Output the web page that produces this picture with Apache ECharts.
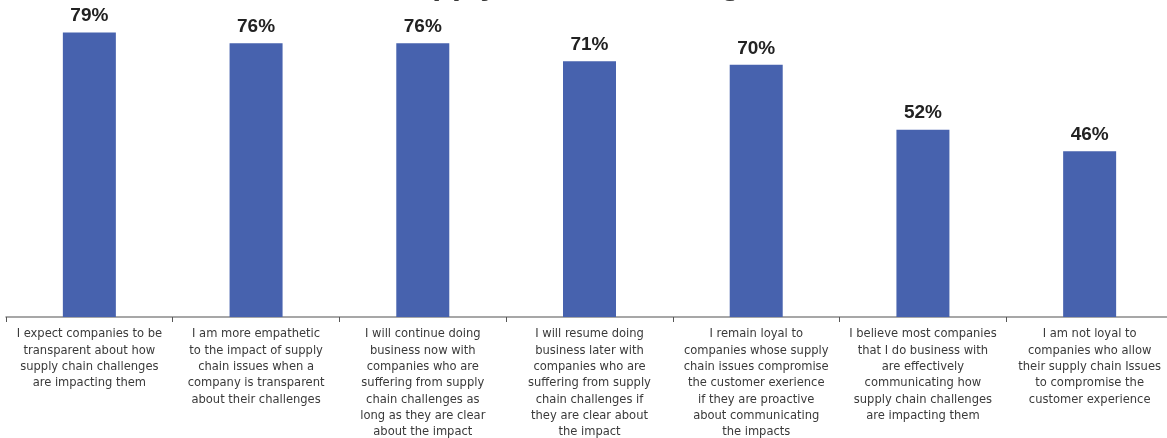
<!DOCTYPE html>
<html>
<head>
    <meta charset="utf-8">
    <title></title>
    <style type="text/css">
        html,
        body {
            height: 100%;
        }

        body {
            margin: 0;
            padding: 0;
            background: #fff;
        }

        #main {
            width: 1167px;
            height: 438px;
        }
    </style>
</head>

<body>
    <div id="main"></div>
    <script src="https://cdn.jsdelivr.net/npm/echarts@6/dist/echarts.min.js"></script>
    <script type="text/javascript">
        var titleText = 'Supply Chain Challenges';

        var categories = [
            'I expect companies to be\ntransparent about how\nsupply chain challenges\nare impacting them',
            'I am more empathetic\nto the impact of supply\nchain issues when a\ncompany is transparent\nabout their challenges',
            'I will continue doing\nbusiness now with\ncompanies who are\nsuffering from supply\nchain challenges as\nlong as they are clear\nabout the impact',
            'I will resume doing\nbusiness later with\ncompanies who are\nsuffering from supply\nchain challenges if\nthey are clear about\nthe impact',
            'I remain loyal to\ncompanies whose supply\nchain issues compromise\nthe customer exerience\nif they are proactive\nabout communicating\nthe impacts',
            'I believe most companies\nthat I do business with\nare effectively\ncommunicating how\nsupply chain challenges\nare impacting them',
            'I am not loyal to\ncompanies who allow\ntheir supply chain Issues\nto compromise the\ncustomer experience'
        ];

        var agreePct = [79, 76, 76, 71, 70, 52, 46];

        var myChart;
        window.onload = function() {
            myChart = echarts.init(document.getElementById('main'));
            myChart.setOption({
                backgroundColor: '#ffffff',
                animation: false,
                title: {
                    text: titleText,
                    left: 'center',
                    top: -35.5,
                    textStyle: {
                        fontFamily: 'Liberation Sans',
                        fontSize: 32,
                        fontWeight: 'bold',
                        color: '#3a3a3a'
                    }
                },
                grid: {
                    left: 6,
                    width: 1167,
                    top: 0,
                    bottom: 121,
                    containLabel: false,
                    outerBoundsMode: 'none'
                },
                xAxis: {
                    type: 'category',
                    data: categories,
                    axisLine: {
                        lineStyle: { color: '#8a8a8a', width: 1.5 }
                    },
                    axisTick: {
                        show: true,
                        length: 5,
                        lineStyle: { color: '#555555' }
                    },
                    axisLabel: {
                        interval: 0,
                        margin: 9,
                        fontFamily: 'DejaVu Sans Condensed, Liberation Sans',
                        fontSize: 12.8,
                        lineHeight: 16.3,
                        color: '#3a3a3a',
                        align: 'center'
                    }
                },
                yAxis: {
                    type: 'value',
                    min: 0,
                    max: 88,
                    show: false,
                    splitLine: { show: false }
                },
                series: [{
                    type: 'bar',
                    data: agreePct,
                    barWidth: 53,
                    itemStyle: { color: '#4762ae' },
                    label: {
                        show: true,
                        position: 'top',
                        distance: 7,
                        formatter: '{c}%',
                        fontFamily: 'Liberation Sans',
                        fontSize: 19,
                        fontWeight: 'bold',
                        color: '#222222'
                    }
                }]
            });
        };
    </script>
</body>
</html>
